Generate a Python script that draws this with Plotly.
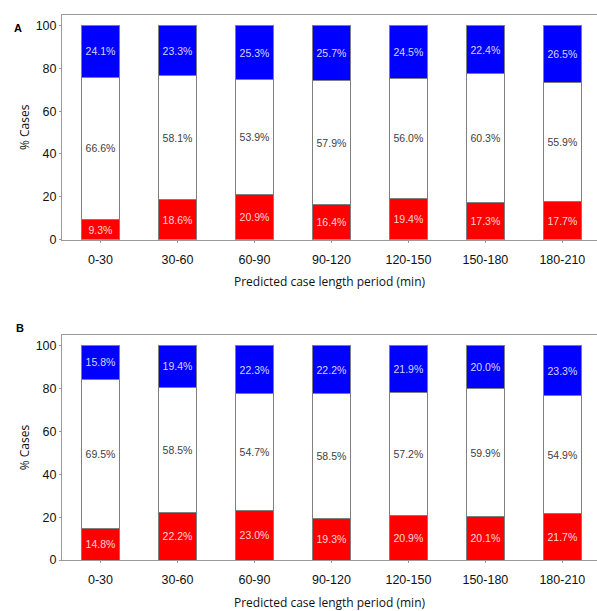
import plotly.graph_objects as go

categories = ["0-30", "30-60", "60-90", "90-120", "120-150", "150-180", "180-210"]

# Panel A
a_red = [9.3, 18.6, 20.9, 16.4, 19.4, 17.3, 17.7]
a_white = [66.6, 58.1, 53.9, 57.9, 56.0, 60.3, 55.9]
a_blue = [24.1, 23.3, 25.3, 25.7, 24.5, 22.4, 26.5]

# Panel B
b_red = [14.8, 22.2, 23.0, 19.3, 20.9, 20.1, 21.7]
b_white = [69.5, 58.5, 54.7, 58.5, 57.2, 59.9, 54.9]
b_blue = [15.8, 19.4, 22.3, 22.2, 21.9, 20.0, 23.3]

y_ticks = [0, 20, 40, 60, 80, 100]
x_title = "Predicted case length period (min)"
y_title = "% Cases"

W, H = 597, 611
fig = go.Figure()

def add_panel(red, white, blue, xa, ya):
    specs = [(red, "#ff0000", "rgba(255,232,232,0.92)"),
             (white, "#ffffff", "#404040"),
             (blue, "#0000ff", "rgba(232,232,255,0.92)")]
    for vals, col, tcol in specs:
        fig.add_trace(go.Bar(
            x=categories, y=vals, xaxis=xa, yaxis=ya,
            marker=dict(color=col, line=dict(color="#7f7f7f", width=1)),
            text=[f"{v:.1f}%" for v in vals],
            textposition="inside", insidetextanchor="middle", textangle=0,
            constraintext="none",
            textfont=dict(color=tcol, size=10.5, family="Liberation Sans, Arial"),
            showlegend=False, hoverinfo="skip",
        ))

add_panel(a_red, a_white, a_blue, "x", "y")
add_panel(b_red, b_white, b_blue, "x2", "y2")

x0 = 62 / W
domA = [1 - 239.5 / H, 1 - 15 / H]
domB = [1 - 560 / H, 1 - 335 / H]

axis_font = dict(family="Liberation Sans Narrow, Liberation Sans", size=12.5, color="#111111")
common_x = dict(
    type="category", range=[-0.5, 6.45], showgrid=False, zeroline=False,
    showline=True, linecolor="#9a9a9a", linewidth=1, mirror=True,
    ticks="outside", ticklen=2, tickcolor="#9a9a9a",
    tickfont=axis_font, automargin=False, ticklabelstandoff=6,
    title=dict(text=x_title, font=dict(family="Open Sans, Liberation Sans", size=12, color="#111111"), standoff=12),
)
common_y = dict(
    range=[0, 105], tickvals=y_ticks, showgrid=False, zeroline=False,
    showline=True, linecolor="#9a9a9a", linewidth=1,
    ticks="outside", ticklen=2, tickcolor="#9a9a9a",
    tickfont=axis_font, automargin=False,
    title=dict(text=y_title, font=dict(family="Open Sans, Liberation Sans", size=12, color="#111111"), standoff=3),
)

fig.update_layout(
    width=W, height=H, margin=dict(l=0, r=0, t=0, b=0),
    paper_bgcolor="white", plot_bgcolor="white",
    barmode="stack", bargap=0.5,
    xaxis=dict(domain=[x0, 1], anchor="y", **common_x),
    yaxis=dict(domain=domA, anchor="x", **common_y),
    xaxis2=dict(domain=[x0, 1], anchor="y2", **common_x),
    yaxis2=dict(domain=domB, anchor="x2", **common_y),
    annotations=[
        dict(text="<b>A</b>", x=12 / W, y=1 - 20 / H, xref="paper", yref="paper",
             showarrow=False, font=dict(family="Liberation Sans", size=11, color="black")),
        dict(text="<b>B</b>", x=14 / W, y=1 - 328 / H, xref="paper", yref="paper",
             showarrow=False, font=dict(family="Liberation Sans", size=11, color="black")),
    ],
)

fig.write_html(
    "out.html",
    config={"displayModeBar": False},
    post_script="document.body.style.margin='0';document.body.style.overflow='hidden';",
)
